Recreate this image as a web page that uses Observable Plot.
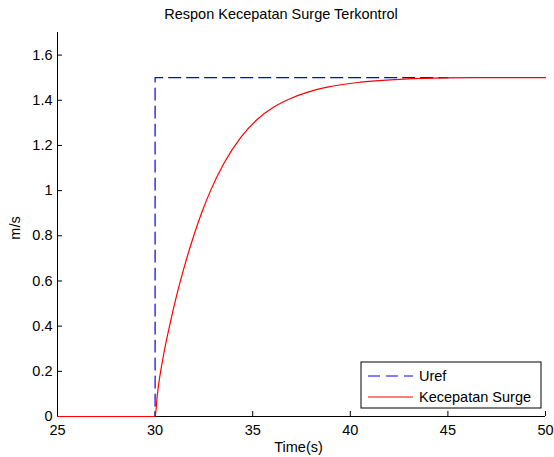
<!DOCTYPE html>
<html>
<head>
<meta charset="utf-8">
<script src="https://cdn.jsdelivr.net/npm/d3@7"></script>
<script src="https://cdn.jsdelivr.net/npm/@observablehq/plot@0.6"></script>
<style>
  html, body { margin: 0; padding: 0; background: white; }
  #wrap { position: relative; width: 554px; height: 457px; font-family: "Liberation Sans", Arial, sans-serif; color: #000; }
  .lbl { position: absolute; font-size: 14.5px; white-space: nowrap; line-height: 1; }
</style>
</head>
<body>
<div id="wrap"></div>
<script>
// ---- data ----
const title = "Respon Kecepatan Surge Terkontrol";
const xLabel = "Time(s)";
const yLabel = "m/s";
const xTicks = [25, 30, 35, 40, 45, 50];
const yTicks = [0, 0.2, 0.4, 0.6, 0.8, 1, 1.2, 1.4, 1.6];
const seriesNames = ["Uref", "Kecepatan Surge"];

const urefTime = [25, 30, 30, 45];
const urefValue = [0, 0, 1.5, 1.5];

const surgeTime = [25, 30, 30.12, 30.45, 30.79, 31.13, 31.47, 31.98, 32.4, 32.84, 33.52, 34.38, 35.23, 36.08, 36.94, 37.79, 38.82, 40.52, 42.74, 44.96, 47, 50];
const surgeValue = [0, 0, 0.1, 0.28, 0.42, 0.545, 0.655, 0.8, 0.905, 1.0, 1.12, 1.235, 1.315, 1.37, 1.408, 1.435, 1.458, 1.48, 1.494, 1.499, 1.5, 1.5];

const uref = urefTime.map((t, i) => ({t, v: urefValue[i]}));
const surge = surgeTime.map((t, i) => ({t, v: surgeValue[i]}));

const chart = Plot.plot({
  width: 554,
  height: 457,
  marginLeft: 57,
  marginRight: 9,
  marginTop: 32,
  marginBottom: 41,
  style: {fontFamily: "'Liberation Sans', Arial, sans-serif", fontSize: "14.5px", color: "#000", background: "white", overflow: "visible"},
  x: {domain: [25, 50], ticks: xTicks, tickSize: -5, tickPadding: 13, label: null, tickFormat: d => String(d)},
  y: {domain: [0, 1.7], ticks: yTicks, tickSize: -5, tickPadding: 10, label: null, tickFormat: d => String(d)},
  marks: [
    Plot.ruleX([xTicks[0]], {stroke: "#000"}),
    Plot.ruleY([yTicks[0]], {stroke: "#000"}),
    Plot.line(uref, {x: "t", y: "v", stroke: "#0000ff", strokeWidth: 1.2, strokeDasharray: "12,6"}),
    Plot.line(surge, {x: "t", y: "v", stroke: "#ff0000", strokeWidth: 1.2, curve: "monotone-x"})
  ]
});

const wrap = document.getElementById("wrap");
wrap.appendChild(chart);

function addLabel(text, css) {
  const d = document.createElement("div");
  d.className = "lbl";
  d.textContent = text;
  Object.assign(d.style, css);
  wrap.appendChild(d);
  return d;
}
addLabel(title, {left: "0px", width: "562px", textAlign: "center", top: "7px"});
addLabel(xLabel, {left: "0px", width: "597px", textAlign: "center", top: "440px"});
addLabel(yLabel, {left: "15px", top: "228px", transform: "translate(-50%,-50%) rotate(-90deg)"});

// legend
const leg = d3.select(wrap).append("svg")
  .attr("width", 182).attr("height", 48)
  .style("position", "absolute").style("left", "360px").style("top", "361px");
leg.append("rect").attr("x", 1).attr("y", 1).attr("width", 180).attr("height", 46)
  .attr("fill", "white").attr("stroke", "#000").attr("stroke-width", 1);
const colors = ["#0000ff", "#ff0000"];
const dashes = ["12,6", null];
seriesNames.forEach((name, i) => {
  const y = 15 + i * 21;
  leg.append("line").attr("x1", 8).attr("x2", 53).attr("y1", y).attr("y2", y)
    .attr("stroke", colors[i]).attr("stroke-width", 1.2).attr("stroke-dasharray", dashes[i]);
  leg.append("text").attr("x", 59).attr("y", y).attr("dy", "0.35em")
    .attr("font-family", "'Liberation Sans', Arial, sans-serif").attr("font-size", 14.5).text(name);
});
</script>
</body>
</html>
